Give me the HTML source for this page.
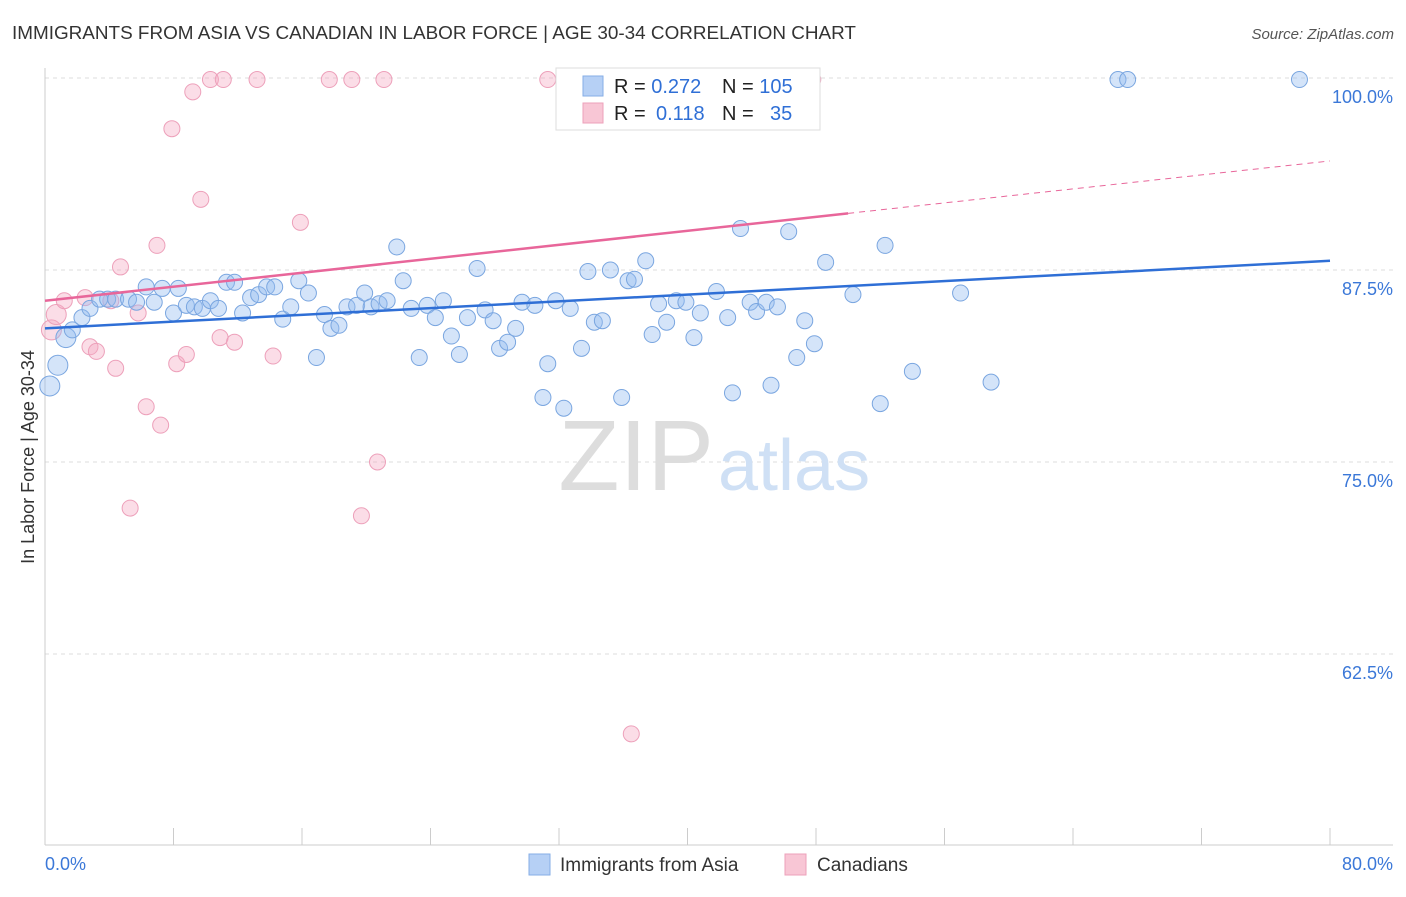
<!DOCTYPE html>
<html><head><meta charset="utf-8"><style>
body{margin:0;background:#fff;font-family:"Liberation Sans",sans-serif;}
svg text{font-family:"Liberation Sans",sans-serif;}
</style></head><body>
<svg id="chart" width="1406" height="892">
<text x="12" y="39" font-size="18.9" fill="#333">IMMIGRANTS FROM ASIA VS CANADIAN IN LABOR FORCE | AGE 30-34 CORRELATION CHART</text>
<text x="1394" y="39" font-size="15" fill="#555" text-anchor="end" font-style="italic">Source: ZipAtlas.com</text>
<text x="34" y="457" font-size="18" fill="#333" text-anchor="middle" transform="rotate(-90 34 457)">In Labor Force | Age 30-34</text>
<g id="grid"></g>
<text x="714" y="490" font-size="100" fill="#ddd" text-anchor="end" font-family="Liberation Serif">ZIP</text>
<text x="718" y="490" font-size="72" fill="#cfe0f5">atlas</text>
<g id="pts"></g>
<g id="lines"></g>
<g>
<rect x="556" y="68" width="264" height="62" fill="#fff" stroke="#ddd"/>
<rect x="583" y="76" width="20" height="20" fill="#b6d0f5" stroke="#86aee6"/>
<text x="614" y="93" font-size="20" fill="#222">R = <tspan fill="#2f6fd6">0.272</tspan></text>
<text x="722" y="93" font-size="20" fill="#222">N = <tspan fill="#2f6fd6">105</tspan></text>
<rect x="583" y="103" width="20" height="20" fill="#f8c6d5" stroke="#eda0ba"/>
<text x="614" y="120" font-size="20" fill="#222">R =  <tspan fill="#2f6fd6" x="656">0.118</tspan></text>
<text x="722" y="120" font-size="20" fill="#222">N = <tspan fill="#2f6fd6" x="770">35</tspan></text>
</g>
<g>
<rect x="529" y="854" width="21" height="21" fill="#b6d0f5" stroke="#86aee6"/>
<text x="560" y="871" font-size="19" fill="#333">Immigrants from Asia</text>
<rect x="785" y="854" width="21" height="21" fill="#f8c6d5" stroke="#eda0ba"/>
<text x="817" y="871" font-size="19" fill="#333">Canadians</text>
</g>
</svg>
<script>
const yTicks=[100,87.5,75,62.5];
const yTickLabels=["100.0%","87.5%","75.0%","62.5%"];
const xTickVals=[0,8,16,24,32,40,48,56,64,72,80];
const asiaX=[0.3,0.8,1.3,1.7,2.3,2.8,3.4,3.9,4.4,5.2,5.7,6.3,6.8,7.3,8.0,8.3,8.8,9.3,9.8,10.3,10.8,11.3,11.8,12.3,12.8,13.3,13.8,14.3,14.8,15.3,15.8,16.4,16.9,17.4,17.8,18.3,18.8,19.4,19.9,20.3,20.8,21.3,21.9,22.3,22.8,23.3,23.8,24.3,24.8,25.3,25.8,26.3,26.9,27.4,27.9,28.3,28.8,29.3,29.7,30.5,31.0,31.3,31.8,32.3,32.7,33.4,33.8,34.2,34.7,35.2,35.9,36.3,36.7,37.4,37.8,38.2,38.7,39.3,39.9,40.4,40.8,41.8,42.5,42.8,43.3,43.9,44.3,44.9,45.2,45.6,46.3,46.8,47.3,47.9,48.6,50.3,52.0,52.3,54.0,57.0,58.9,66.8,67.4,78.1];
const asiaY=[79.95,81.3,83.1,83.6,84.4,85.0,85.6,85.6,85.6,85.6,85.4,86.4,85.4,86.3,84.7,86.3,85.2,85.1,85.0,85.5,85.0,86.7,86.7,84.7,85.7,85.9,86.4,86.4,84.3,85.1,86.8,86.0,81.8,84.6,83.7,83.9,85.1,85.2,86.0,85.1,85.3,85.5,89.0,86.8,85.0,81.8,85.2,84.4,85.5,83.2,82.0,84.4,87.6,84.9,84.2,82.4,82.8,83.7,85.4,85.2,79.2,81.4,85.5,78.5,85.0,82.4,87.4,84.1,84.2,87.5,79.2,86.8,86.9,88.1,83.3,85.3,84.1,85.5,85.4,83.1,84.7,86.1,84.4,79.5,90.2,85.4,84.8,85.4,80.0,85.1,90.0,81.8,84.2,82.7,88.0,85.9,78.8,89.1,80.9,86.0,80.2,99.9,99.9,99.9];
const canX=[0.4,0.7,1.2,2.5,2.8,3.2,4.1,4.4,4.7,5.3,5.8,6.3,6.97,7.2,7.9,8.2,8.8,9.2,9.7,10.3,11.1,10.9,11.8,13.2,14.2,15.9,17.7,19.1,19.7,20.7,21.1,31.3,36.5,47.8];
const canY=[83.6,84.6,85.5,85.7,82.5,82.2,85.5,81.1,87.7,72.0,84.7,78.6,89.1,77.4,96.7,81.4,82.0,99.1,92.1,99.9,99.9,83.1,82.8,99.9,81.9,90.6,99.9,99.9,71.5,75.0,99.9,99.9,57.3,99.9];
const asiaTrend=[83.7,88.1];
const canTrend=[85.5,94.6];
const canSolidEnd=50;
const NS="http://www.w3.org/2000/svg";
const X=v=>45+v/80*1285;
const Y=v=>78+(100-v)/12.5*192;
function mk(p,t,a){const e=document.createElementNS(NS,t);for(const k in a)e.setAttribute(k,a[k]);p.appendChild(e);return e;}
const grid=document.getElementById('grid');
yTicks.forEach((v,i)=>{
 const l=mk(grid,'line',{x1:45,x2:1393,y1:Y(v),y2:Y(v),stroke:'#ddd','stroke-dasharray':'4,4'});
 
 
 const t=mk(grid,'text',{x:1393,y:Y(v)+25,'font-size':18,fill:'#3b78d8','text-anchor':'end'});
 t.textContent=yTickLabels[i];
 
 
});
const ya=mk(grid,'line',{x1:45,x2:45,y1:68,y2:845,stroke:'#ccc'});


const xa=mk(grid,'line',{x1:45,x2:1393,y1:845,y2:845,stroke:'#ccc'});


xTickVals.forEach(v=>{
 const t=mk(grid,'line',{x1:X(v),x2:X(v),y1:828,y2:845,stroke:'#ccc'});
 
 
});
const xl0=mk(grid,'text',{x:45,y:870,'font-size':18,fill:'#3b78d8'});xl0.textContent='0.0%';


const xl1=mk(grid,'text',{x:1393,y:870,'font-size':18,fill:'#3b78d8','text-anchor':'end'});xl1.textContent='80.0%';


const pts=document.getElementById('pts');
canX.forEach((x,i)=>{
 const c=mk(pts,'circle',{cx:X(x),cy:Y(canY[i]),r:i<2?10:8,fill:'rgba(244,170,195,0.4)',stroke:'#eda0ba','stroke-width':1});
 
 
});
asiaX.forEach((x,i)=>{
 const c=mk(pts,'circle',{cx:X(x),cy:Y(asiaY[i]),r:i<3?10:8,fill:'rgba(147,187,240,0.4)',stroke:'#7aa6e0','stroke-width':1});
 
 
});
const lines=document.getElementById('lines');
const la=mk(lines,'line',{x1:X(0),y1:Y(asiaTrend[0]),x2:X(80),y2:Y(asiaTrend[1]),stroke:'#2f6fd6','stroke-width':2.5});


const cy=x=>canTrend[0]+(canTrend[1]-canTrend[0])*x/80;
const lc=mk(lines,'line',{x1:X(0),y1:Y(cy(0)),x2:X(canSolidEnd),y2:Y(cy(canSolidEnd)),stroke:'#e8669a','stroke-width':2.5});


const ld=mk(lines,'line',{x1:X(canSolidEnd),y1:Y(cy(canSolidEnd)),x2:X(80),y2:Y(cy(80)),stroke:'#e8669a','stroke-width':1,'stroke-dasharray':'6,5'});


</script>
</body></html>
